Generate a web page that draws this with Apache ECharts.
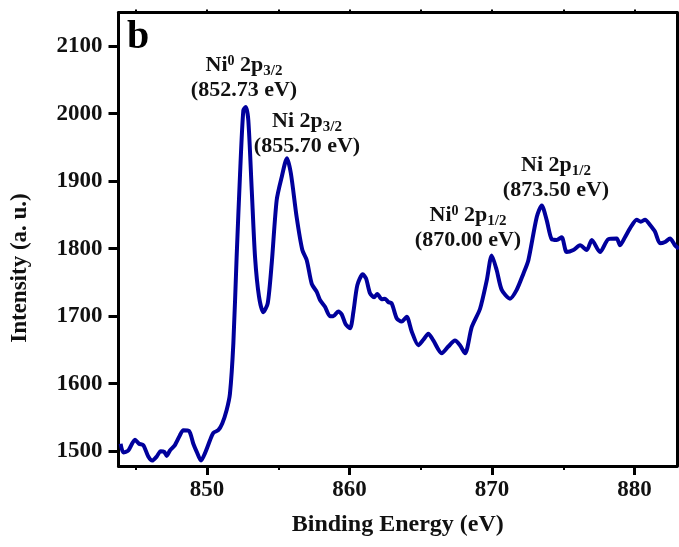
<!DOCTYPE html>
<html>
<head>
<meta charset="utf-8">
<script src="https://cdn.jsdelivr.net/npm/echarts@6/dist/echarts.min.js"></script>
<style>html,body{margin:0;padding:0;background:#fff}#c{width:679px;height:547px}</style>
</head>
<body>
<div id="c"></div>
<script>
// Binding energy (eV)
const energy = [843.94,844.13,844.48,844.95,845.23,845.53,845.88,846.16,846.47,846.75,847.00,847.17,847.40,847.75,848.11,848.34,848.74,849.04,849.28,849.58,849.86,850.21,850.44,850.79,851.07,851.38,851.61,851.85,852.08,852.32,852.55,852.72,852.90,853.14,853.37,853.65,853.95,854.26,854.54,854.89,855.24,855.61,855.89,856.29,856.69,857.00,857.35,857.70,857.93,858.28,858.63,858.86,859.21,859.45,859.73,860.04,860.27,860.55,860.93,861.16,861.44,861.72,861.95,862.26,862.49,862.72,862.96,863.31,863.66,864.01,864.37,864.83,865.18,865.53,865.88,866.47,866.93,867.40,867.75,868.11,868.58,869.16,869.63,869.98,870.33,870.68,871.26,871.73,872.20,872.55,873.14,873.49,873.84,874.19,874.54,874.89,875.24,875.71,876.18,876.65,877.00,877.58,878.16,878.75,878.98,879.33,879.68,880.15,880.44,880.74,881.09,881.44,881.79,882.14,882.49,882.84,883.12];
// Intensity (a. u.)
const intensity = [1511,1498,1501,1517,1511,1509,1492,1486,1492,1500,1499,1493,1501,1509,1524,1531,1530,1511,1499,1486,1497,1516,1527,1531,1541,1561,1585,1660,1788,1911,2005,2010,1990,1887,1788,1729,1706,1719,1778,1872,1906,1934,1911,1847,1798,1783,1748,1736,1724,1714,1700,1700,1707,1703,1688,1682,1706,1746,1762,1756,1734,1728,1733,1725,1726,1721,1719,1697,1692,1699,1677,1657,1665,1674,1664,1645,1655,1664,1657,1645,1684,1711,1753,1790,1768,1739,1726,1739,1763,1783,1847,1864,1842,1814,1813,1817,1795,1798,1805,1798,1813,1795,1814,1815,1805,1817,1830,1843,1840,1843,1835,1825,1808,1810,1815,1805,1800];
const xMajorTicks = [850, 860, 870, 880];
const xMinorTicks = [845, 855, 865, 875];
const xTopTicks = [845, 850, 855, 860, 865, 870, 875, 880];
const yTicks = [1500, 1600, 1700, 1800, 1900, 2000, 2100];
const xRange = [843.79, 882.98];
const yRange = [1478, 2150];
const panelLabel = 'b';
const xTitle = 'Binding Energy (eV)';
const yTitle = 'Intensity (a. u.)';
const peakLabels = [
  ['Ni{sup|0} 2p{sub|3/2}', '(852.73 eV)'],
  ['Ni 2p{sub|3/2}', '(855.70 eV)'],
  ['Ni{sup|0} 2p{sub|1/2}', '(870.00 eV)'],
  ['Ni 2p{sub|1/2}', '(873.50 eV)']
];
const peakLabelPos = [[244, 78], [307, 134], [468, 228], [556, 178]];

const FONT = "'Liberation Serif','Times New Roman',serif";
const chart = echarts.init(document.getElementById('c'), null, {renderer: 'canvas'});
const pts = energy.map((e, i) => [e, intensity[i]]);
const lineBlack = {show: true, lineStyle: {color: '#000', width: 3}};
const plain = v => String(Math.round(v));
const richStyles = {
  n: {fontFamily: FONT, fontWeight: 'bold', fontSize: 22, lineHeight: 25, color: '#111'},
  sup: {fontFamily: FONT, fontWeight: 'bold', fontSize: 14, lineHeight: 14, padding: [0, 0, 9, 0], color: '#111'},
  sub: {fontFamily: FONT, fontWeight: 'bold', fontSize: 15, lineHeight: 15, padding: [11, 0, 0, 0], color: '#111'}
};
const graphics = peakLabels.map((lbl, i) => ({
  type: 'text',
  x: peakLabelPos[i][0], y: peakLabelPos[i][1],
  style: {
    text: '{n|' + lbl[0].replace(/\{(sup|sub)\|([^}]*)\}/g, '}{$1|$2}{n|') + '}\n{n|' + lbl[1] + '}',
    rich: richStyles,
    align: 'center', verticalAlign: 'middle',
    fontFamily: FONT, fontWeight: 'bold', fontSize: 22, lineHeight: 25, fill: '#111'
  }
}));
graphics.push({
  type: 'text', x: 127, y: 38,
  style: {text: panelLabel, fontFamily: FONT, fontWeight: 'bold', fontSize: 40, fill: '#000', align: 'left', verticalAlign: 'middle'}
});
graphics.push({
  type: 'text', x: 20, y: 268, rotation: Math.PI / 2,
  style: {text: yTitle, fontFamily: FONT, fontWeight: 'bold', fontSize: 23, fill: '#111', align: 'center', verticalAlign: 'middle'}
});

chart.setOption({
  animation: false,
  backgroundColor: '#fff',
  grid: {left: 118.5, right: 2, top: 12.5, bottom: 81, containLabel: false},
  xAxis: [
    {type: 'value', position: 'bottom', min: xRange[0], max: xRange[1],
     axisLine: lineBlack,
     axisTick: {show: true, customValues: xMajorTicks, length: 9, lineStyle: {color: '#000', width: 3}},
     axisLabel: {customValues: xMajorTicks, formatter: plain, margin: 13, fontFamily: FONT, fontWeight: 'bold', fontSize: 23, color: '#111'},
     splitLine: {show: false},
     name: xTitle, nameLocation: 'middle', nameGap: 47,
     nameTextStyle: {fontFamily: FONT, fontWeight: 'bold', fontSize: 24, color: '#111'}},
    {type: 'value', position: 'bottom', min: xRange[0], max: xRange[1],
     axisLine: {show: false},
     axisTick: {show: true, customValues: xMinorTicks, length: 4, lineStyle: {color: '#000', width: 2}},
     axisLabel: {show: false}, splitLine: {show: false}},
    {type: 'value', position: 'top', min: xRange[0], max: xRange[1],
     axisLine: lineBlack,
     axisTick: {show: true, customValues: xTopTicks, length: 3, lineStyle: {color: '#000', width: 2}},
     axisLabel: {show: false}, splitLine: {show: false}}
  ],
  yAxis: [
    {type: 'value', position: 'left', min: yRange[0], max: yRange[1],
     axisLine: lineBlack,
     axisTick: {show: true, customValues: yTicks, length: 10, lineStyle: {color: '#000', width: 3}},
     axisLabel: {customValues: yTicks, formatter: plain, margin: 16, fontFamily: FONT, fontWeight: 'bold', fontSize: 23, color: '#111'},
     splitLine: {show: false}},
    {type: 'value', position: 'right', min: yRange[0], max: yRange[1],
     axisLine: lineBlack, axisTick: {show: false}, axisLabel: {show: false}, splitLine: {show: false}}
  ],
  series: [{
    type: 'line', data: pts, xAxisIndex: 0, yAxisIndex: 0,
    showSymbol: false, smooth: 0.25, clip: true,
    lineStyle: {color: '#00009c', width: 4}
  }],
  graphic: graphics
});
</script>
</body>
</html>
